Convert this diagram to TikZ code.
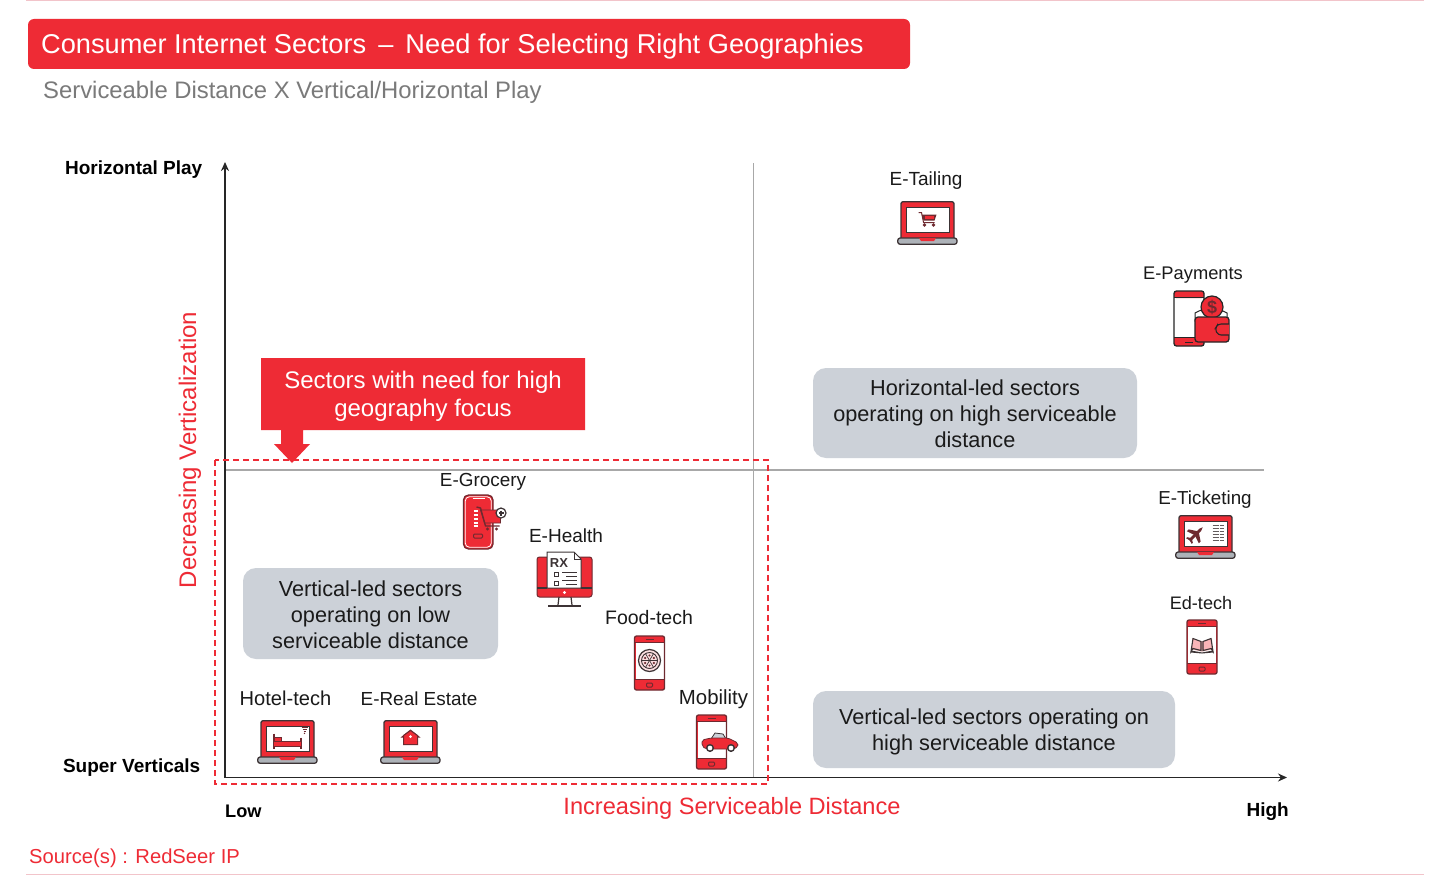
\documentclass[tikz,border=0pt]{standalone}
\usepackage{fontspec}
\setmainfont{Liberation Sans}
\usetikzlibrary{arrows.meta}
\definecolor{rsred}{HTML}{EE2B35}
\definecolor{rsbox}{HTML}{CCD1D8}
\definecolor{rsdark}{HTML}{3C3335}
\definecolor{rsmaroon}{HTML}{6E2A30}
\definecolor{rstext}{HTML}{1A1A1A}
\definecolor{rsgray}{HTML}{7A7A7A}
\definecolor{rsline}{HTML}{A8A8A8}
\definecolor{rspink}{HTML}{F2C4CA}
\tikzset{
  x=1pt,y=-1pt,
  fs/.style={font=\fontsize{#1}{#1}\selectfont},
  lbl/.style={fs=#1,text=rstext,inner sep=0pt},
  axislbl/.style={text=black,inner sep=0pt,font=\bfseries\fontsize{19}{19}\selectfont},
  redlbl/.style={fs=#1,text=rsred,inner sep=0pt},
  sectorbox/.style={fill=rsbox,rounded corners=13pt,inner sep=0pt,anchor=center},
  sectortext/.style={align=center,inner sep=0pt,text=rstext,font=\fontsize{21.7}{26}\selectfont},
  axis/.style={line width=1.5pt,draw=black!85,-{Stealth[length=9pt,width=8pt]}},
  grid/.style={line width=1.5pt,draw=rsline},
  ol/.style={draw=rsdark,line width=1.3pt,line join=round},
}
\newcommand{\laptopicon}[3]{\begin{scope}[shift={(#1,#2)}]
  \draw[ol,fill=rsred,rounded corners=2pt] (4,43)--(4,0.7)--(57,0.7)--(57,43)--cycle;
  \fill[white,draw=rsdark,line width=1pt] (9,6)rectangle(52,31);
  \draw[ol,fill=rsbox!85!black,rounded corners=2.5pt] (0.7,37)rectangle(60,43.3);
  \fill[rsred] (22,37)--(39,37)--(37,40)--(24,40)--cycle;
  \begin{scope}[shift={(30.5,18.5)}]#3\end{scope}
\end{scope}}
\newcommand{\phoneicon}[3]{\begin{scope}[shift={(#1,#2)}]
  \fill[rsred,rounded corners=2pt] (0,0)rectangle(30,54);
  \fill[white] (1,6)rectangle(29,43);
  \draw[draw=rsmaroon,line width=1.3pt,rounded corners=2pt] (0,0)rectangle(30,54);
  \draw[draw=rsmaroon,line width=1pt] (0,6)--(30,6) (0,43)--(30,43) (11,3)--(19,3);
  \draw[draw=rsmaroon,line width=1pt,rounded corners=1pt] (12,47)rectangle(18,51);
  \begin{scope}[shift={(15,24.5)}]#3\end{scope}
\end{scope}}
\begin{document}
\begin{tikzpicture}
\useasboundingbox (0,0) rectangle (1448,875);
\fill[white] (0,0) rectangle (1448,875);
% rules
\coordinate (tl) at (26,0.7); \coordinate (tr) at (1424,0.7);
\coordinate (bl) at (26,874); \coordinate (br) at (1424,874);
\draw[rspink,line width=1pt] (tl)--(tr);
\draw[rspink,line width=1pt] (bl)--(br);
% title
\node[fill=rsred,rounded corners=6pt,minimum width=882pt,minimum height=50pt,inner sep=0pt] (titlebar) at (469,44) {};
\node[fs=27.2,text=white,anchor=west,inner sep=0pt] (title) at (41,46) {Consumer Internet Sectors\, –\, Need for Selecting Right Geographies};
\node[fs=23.85,text=rsgray,anchor=west,inner sep=0pt] (subtitle) at (43,92.5) {Serviceable Distance X Vertical/Horizontal Play};
% grid and axes
\coordinate (o) at (225,777.5);
\coordinate (ytop) at (225,162);
\coordinate (xend) at (1287,777.5);
\coordinate (vt) at (753.5,163); \coordinate (vb) at (753.5,777);
\coordinate (hl) at (226,470); \coordinate (hr) at (1264,470);
\draw[grid] (vt)--(vb);
\draw[grid] (hl)--(hr);
\draw[axis] (o)--(ytop);
\draw[axis] (o)--(xend);
% axis labels
\node[axislbl,anchor=east] (hplay) at (202.5,170) {Horizontal Play};
\node[axislbl,anchor=east] (sv) at (200.5,768) {Super Verticals};
\node[axislbl,anchor=west,font=\bfseries\fontsize{18.2}{18.2}\selectfont] (low) at (225,811) {Low};
\node[axislbl,anchor=east] (high) at (1289,811.5) {High};
\node[redlbl=24,rotate=90] (dv) at (190,450) {Decreasing Verticalization};
\node[redlbl=23.6] (isd) at (732,808.5) {Increasing Serviceable Distance};
\node[fs=20.2,text=rsred,anchor=west,inner sep=0pt] (src) at (29,858.5) {Source(s) : RedSeer IP};
% focus frame
\draw[rsred,line width=1.2pt,dash pattern=on 6pt off 4pt] (215,460) rectangle (768,784);
% callout
\fill[rsred] (261,358)--(585,358)--(585,430)--(303,430)--(303,444)--(310,444)--(292,463)--(274,444)--(281,444)--(281,430)--(261,430)--cycle;
\node[text=white,align=center,font=\fontsize{24}{28}\selectfont,inner sep=0pt] (callout) at (423,396) {Sectors with need for high\\geography focus};
% sector boxes
\node[sectorbox,minimum width=324pt,minimum height=90pt] (hboxbg) at (975,413) {};
\node[sectortext] (hbox) at (975,414) {Horizontal-led sectors\\operating on high serviceable\\distance};
\node[sectorbox,minimum width=255pt,minimum height=91pt] (lboxbg) at (370.5,613.5) {};
\node[sectortext] (lbox) at (370.5,615) {Vertical-led sectors\\operating on low\\serviceable distance};
\node[sectorbox,minimum width=362pt,minimum height=77pt] (vboxbg) at (994,729.5) {};
\node[sectortext] (vbox) at (994,732) {Vertical-led sectors operating on\\high serviceable distance};
% labels
\node[lbl=19] (l1) at (926,181) {E-Tailing};
\node[lbl=18.3] (l2) at (1193,275) {E-Payments};
\node[lbl=18.8] (l3) at (1205,500) {E-Ticketing};
\node[lbl=18.1] (l4) at (1201,603.5) {Ed-tech};
\node[lbl=18.9] (l5) at (483,481.5) {E-Grocery};
\node[lbl=19] (l6) at (566,535.5) {E-Health};
\node[lbl=19.5] (l7) at (649,617.5) {Food-tech};
\node[lbl=20.4] (l8) at (713.5,699.5) {Mobility};
\node[lbl=20.1] (l9) at (285.5,698.5) {Hotel-tech};
\node[lbl=18.9] (l10) at (419,698.5) {E-Real Estate};
% E-Tailing
\laptopicon{897}{201}{
  \draw[rsmaroon,line width=1pt] (-9,-7)--(-6,-7)--(-4,3)--(7,3);
  \fill[rsmaroon] (-6,-5)--(9,-5)--(7,1)--(-4,1)--cycle;
  \fill[rsred] (-3,-3.5)rectangle(6,-1);
  \fill[rsmaroon] (-3,5.5)circle(1.8) (6,5.5)circle(1.8);
}
% Hotel-tech
\laptopicon{257}{720}{
  \draw[rsmaroon,line width=2pt] (-14,-5)--(-14,10) (13.5,-1)--(13.5,10);
  \fill[rsred,draw=rsmaroon,line width=1pt] (-14,2.5)rectangle(13.5,7.5);
  \fill[rsred,draw=rsmaroon,line width=1pt] (-13,-1)rectangle(-6,2.5);
  \draw[rsmaroon,line width=.8pt] (14,-11)--(20,-11) (15,-9)--(19,-9) (16,-7)--(18,-7);
  \fill[rsmaroon] (17,-5.2)circle(.8);
}
% E-Real Estate
\laptopicon{380}{720}{
  \fill[rsmaroon] (-10,-1)--(0,-9)--(10,-1)--cycle;
  \fill[rsred,draw=rsmaroon,line width=1pt] (-7,-3)--(0,-8)--(7,-3)--(7,6)--(-7,6)--cycle;
  \fill[white] (0,-2)circle(1.5);
}
% E-Ticketing
\laptopicon{1175}{515}{
  \begin{scope}[shift={(-9.5,0.5)},rotate=45]
    \fill[rsmaroon] (-9,-1.4)--(6,-1.4)--(9.5,0)--(6,1.4)--(-9,1.4)--cycle;
    \fill[rsmaroon] (3,-1)--(-2,-1)--(-4.5,-8.5)--(-2,-8.5)--cycle;
    \fill[rsmaroon] (3,1)--(-2,1)--(-4.5,8.5)--(-2,8.5)--cycle;
    \fill[rsmaroon] (-6,0)--(-9,0)--(-10,-4)--(-8.5,-4)--cycle;
    \fill[rsmaroon] (-6,0)--(-9,0)--(-10,4)--(-8.5,4)--cycle;
  \end{scope}
  \foreach \yy in {-8,-5,-2,1,4,7}{\draw[rsdark!80,line width=1.8pt,dash pattern=on 3pt off .6pt] (7,\yy)--(18,\yy);}
}
% E-Payments
\begin{scope}[shift={(1174,291)}]
  \fill[white] (0,0)rectangle(30,55);
  \fill[rsred,rounded corners=2pt] (0,0)rectangle(30,7);
  \fill[rsred,rounded corners=2pt] (0,46)rectangle(30,55);
  \draw[draw=black!85,line width=1.3pt,rounded corners=2.5pt] (0,0)rectangle(30,55);
  \draw[black!85,line width=1pt] (0,6)--(30,6) (0,46)--(30,46) (11,51)--(19,51);
  \draw[black!85,fill=white,line width=1pt] (21,22) to[bend left=30] (53,22)--(53,30)--(21,30)--cycle;
  \draw[black!85,fill=rsred,line width=1.2pt] (38,16)circle(11);
  \node[inner sep=0pt,font=\bfseries\fontsize{18}{18}\selectfont,text=rsmaroon] (dollar) at (38,16) {\$};
  \draw[black!85,fill=rsred,line width=1.3pt,rounded corners=3pt] (21,26)--(55,26)--(55,51)--(21,51)--cycle;
  \draw[black!85,fill=rsred,line width=1.1pt,rounded corners=3pt] (55,33)--(44,33)--(41,38)--(44,44)--(55,44);
\end{scope}
% Ed-tech
\phoneicon{1187}{620}{
  \fill[rsred!35] (-10,-6)--(0,-3)--(10,-6)--(10,5)--(0,7)--(-10,5)--cycle;
  \draw[rsdark,line width=1.1pt] (-11,7)--(-9,-6)--(-1,-3)--(-1,6)--(-9,4)--cycle;
  \draw[rsdark,line width=1.1pt] (11,7)--(9,-6)--(1,-3)--(1,6)--(9,4)--cycle;
  \fill[rsdark] (-11,6)--(0,8)--(11,6)--(11,8)--(0,9)--(-11,8)--cycle;
}
% Food-tech
\phoneicon{634.5}{636}{
  \draw[rsdark,line width=1.2pt,fill=rsred!15] (0,0)circle(11);
  \draw[rsdark,line width=.9pt] (0,0)circle(8);
  \foreach \a in {0,60,...,300}{\draw[rsdark,line width=.7pt] (0,0)--(\a:8); \fill[rsmaroon] (\a+30:5)circle(1.2);}
}
% Mobility
\phoneicon{696.5}{715}{}
\begin{scope}[shift={(702,733)}]
  \draw[rsdark,fill=rsbox,line width=.8pt] (13,0)--(21,1)--(24,6)--(9,6)--cycle;
  \fill[rsred,draw=rsmaroon,line width=.8pt,rounded corners=2pt] (0,7)--(9,5)--(26,5)--(36,10)--(36,14)--(31,16)--(4,16)--(0,13)--cycle;
  \draw[rsdark,fill=white,line width=1.4pt] (8,15)circle(3.3);
  \draw[rsdark,fill=white,line width=1.4pt] (29,15)circle(3.3);
\end{scope}
% E-Grocery
\begin{scope}[shift={(463.5,495)}]
  \fill[rsred,rounded corners=4pt] (0,0)rectangle(29.5,54);
  \draw[rsmaroon,line width=1.2pt,rounded corners=5pt] (0,0)rectangle(29.5,54);
  \draw[white,line width=.8pt,rounded corners=4pt] (1.8,1.8)rectangle(27.7,52.2);
  \draw[white,line width=1.4pt] (9,3.5)--(21,3.5);
  \foreach \yy in {16,20,24,28,31}{\draw[white,line width=1.4pt] (10,\yy)--(14,\yy);}
  \draw[rsmaroon,line width=1pt,rounded corners=1pt] (10,39)rectangle(19,43);
  \fill[rsred,draw=rsmaroon,line width=.8pt] (17,15)--(37,15)--(37,28)--(21,28)--cycle;
  \draw[rsmaroon,line width=1.4pt] (13,12)--(17,13)--(22,31)--(36,31);
  \fill[rsmaroon] (24,34)circle(1.6) (33,34)circle(1.6);
  \draw[rsdark,fill=white,line width=1.2pt] (37.5,18)circle(5);
  \draw[rsdark,line width=1.2pt] (35,18)--(40,18) (37.5,15.5)--(37.5,20.5);
\end{scope}
% E-Health
\begin{scope}[shift={(537,552)}]
  \fill[rsred,draw=rsmaroon,line width=1pt,rounded corners=2.5pt] (0,5)rectangle(55,45);
  \fill[white,draw=rsdark,line width=1pt] (10,0)--(37,0)--(44,7)--(44,36)--(10,36)--cycle;
  \draw[rsdark,line width=.9pt] (37,0)--(37,7)--(44,7);
  \node[inner sep=0pt,font=\bfseries\fontsize{13}{13}\selectfont,text=rsdark] (rx) at (22,11) {RX};
  \draw[rsdark,line width=.8pt] (17,20.5)rectangle(21,24.5) (17,29)rectangle(21,33);
  \draw[rsdark,line width=.8pt] (25,20)--(40,20) (29,24)--(40,24) (25,28)--(40,28) (29,32)--(40,32);
  \fill[white] (27.5,40.5)circle(1.6);
  \draw[rsdark,line width=1.2pt] (0,36)--(10,36) (44,36)--(55,36);
  \draw[rsdark,line width=1.2pt] (22,45)--(21,53) (34,45)--(35,53);
  \draw[rsdark,line width=1.6pt] (11,54)--(44,54);
\end{scope}
\end{tikzpicture}
\end{document}
